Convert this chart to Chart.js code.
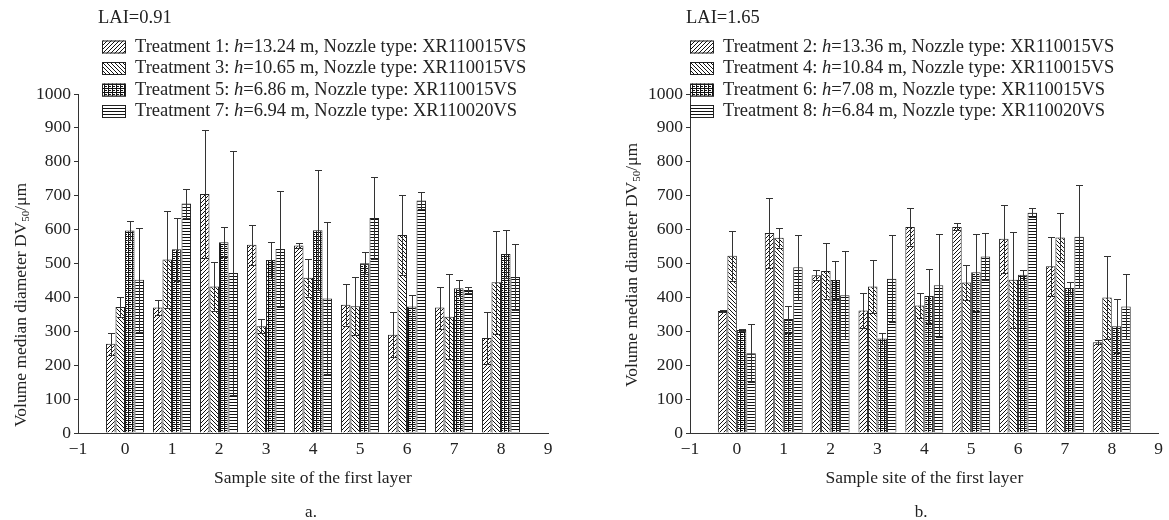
<!DOCTYPE html>
<html>
<head>
<meta charset="utf-8">
<script src="https://cdn.jsdelivr.net/npm/chart.js@4.4.1/dist/chart.umd.min.js"></script>
<style>
    body { margin: 0; background: #fff; }
    #wrap { position: relative; width: 1169px; height: 520px; overflow: hidden; }
    .panel { position: absolute; top: 0; height: 520px; }
    .cap { position: absolute; top: 512px; transform: translate(-50%, -50%); font: 17px "Liberation Serif", serif; color: #222; }
</style>
</head>
<body>
<div id="wrap">
    <div class="panel" style="left:0;width:584px"><canvas id="chartA"></canvas></div>
    <div class="panel" style="left:584px;width:585px"><canvas id="chartB"></canvas></div>
    <div class="cap" style="left:311px">a.</div>
    <div class="cap" style="left:921px">b.</div>
</div>
<script>
// DV50 by sample site, first layer. Two panels: LAI=0.91 (a) and LAI=1.65 (b).
// x axis runs -1..9, sites 0..8 carry data.
const SITES = ['\u22121', '0', '1', '2', '3', '4', '5', '6', '7', '8', '9'];
const Y_TICKS = [0, 100, 200, 300, 400, 500, 600, 700, 800, 900, 1000];

// panel a, LAI=0.91
const A_LAI = 'LAI=0.91';
const A_NAMES = ['Treatment 1', 'Treatment 3', 'Treatment 5', 'Treatment 7'];
const A_HEIGHTS = ['13.24', '10.65', '6.86', '6.94'];
const A_NOZZLES = ['XR110015VS', 'XR110015VS', 'XR110015VS', 'XR110020VS'];
const A_T1 = [263, 370, 705, 555, 553, 378, 290, 370, 280];
const A_T1_ERR = [32, 22, 190, 58, 8, 62, 67, 62, 77];
const A_T3 = [372, 512, 432, 315, 458, 374, 584, 343, 445];
const A_T3_ERR = [30, 142, 72, 20, 56, 86, 118, 126, 152];
const A_T5 = [597, 542, 563, 510, 598, 501, 373, 427, 528];
const A_T5_ERR = [28, 93, 45, 54, 177, 33, 35, 23, 70];
const A_T7 = [452, 677, 472, 543, 397, 634, 686, 422, 460];
const A_T7_ERR = [154, 44, 361, 170, 224, 122, 24, 10, 98];

// panel b, LAI=1.65
const B_LAI = 'LAI=1.65';
const B_NAMES = ['Treatment 2', 'Treatment 4', 'Treatment 6', 'Treatment 8'];
const B_HEIGHTS = ['13.36', '10.84', '7.08', '6.84'];
const B_NOZZLES = ['XR110015VS', 'XR110015VS', 'XR110015VS', 'XR110020VS'];
const B_T2 = [360, 590, 465, 361, 608, 608, 573, 492, 268];
const B_T2_ERR = [4, 102, 15, 51, 57, 10, 100, 87, 5];
const B_T4 = [523, 576, 478, 432, 376, 444, 452, 577, 400];
const B_T4_ERR = [74, 29, 82, 79, 36, 53, 141, 71, 122];
const B_T6 = [304, 336, 451, 279, 404, 474, 467, 428, 315];
const B_T6_ERR = [3, 40, 56, 16, 79, 114, 15, 18, 80];
const B_T8 = [235, 489, 406, 455, 436, 521, 650, 579, 373];
const B_T8_ERR = [86, 96, 130, 128, 152, 69, 13, 152, 95];

const SERIF = '"Liberation Serif", "Times New Roman", serif';
const INK = '#222';

// black & white hatch fills, one per treatment slot
function makePattern(kind) {
    const c = document.createElement('canvas');
    c.width = 4; c.height = kind === 'horiz' ? 3 : 4;
    const g = c.getContext('2d');
    g.fillStyle = '#fff';
    g.fillRect(0, 0, c.width, c.height);
    g.fillStyle = '#111';
    if (kind === 'fwd') {
        for (let i = 0; i < 4; i++) g.fillRect(i, 3 - i, 1, 1);
    } else if (kind === 'back') {
        for (let i = 0; i < 4; i++) g.fillRect(i, i, 1, 1);
    } else if (kind === 'check') {
        g.fillRect(0, 0, 4, 1);
        g.fillRect(0, 0, 1, 4);
        g.fillRect(2, 2, 1, 1);
        g.fillRect(1, 2, 1, 1);
    } else {
        g.fillRect(0, 0, 4, 1);
    }
    return g.createPattern(c, 'repeat');
}
const PATTERNS = ['fwd', 'back', 'check', 'horiz'].map(makePattern);

// pad the site values with empty slots at -1 and 9
const pad = arr => [null, ...arr, null];

const errorBars = {
    id: 'errorBars',
    afterDatasetsDraw(chart) {
        const { ctx } = chart;
        const y = chart.scales.y;
        ctx.save();
        ctx.strokeStyle = '#333';
        ctx.lineWidth = 1;
        chart.data.datasets.forEach((ds, di) => {
            chart.getDatasetMeta(di).data.forEach((bar, i) => {
                const v = ds.data[i], e = ds.errors[i];
                if (v == null || e == null) return;
                const x = Math.round(bar.x) + 0.5;
                const hi = Math.round(y.getPixelForValue(v + e)) + 0.5;
                const lo = Math.round(y.getPixelForValue(Math.max(0, v - e))) + 0.5;
                ctx.beginPath();
                ctx.moveTo(x, lo); ctx.lineTo(x, hi);
                ctx.moveTo(x - 3.5, hi); ctx.lineTo(x + 3.5, hi);
                ctx.moveTo(x - 3.5, lo); ctx.lineTo(x + 3.5, lo);
                ctx.stroke();
            });
        });
        ctx.restore();
    }
};

// LAI header + pattern legend + y title with subscript
const annotations = {
    id: 'annotations',
    afterDraw(chart) {
        const o = chart.options.plugins.annotations;
        const { ctx } = chart;
        ctx.save();
        ctx.fillStyle = INK;
        ctx.textBaseline = 'middle';
        ctx.font = '18.5px ' + SERIF;
        ctx.fillText(o.lai, o.lx, 18);

        o.names.forEach((name, i) => {
            const yy = 47 + i * 21.5;
            ctx.fillStyle = PATTERNS[i];
            ctx.fillRect(o.lx + 4, yy - 6.5, 24, 13);
            ctx.strokeStyle = '#222';
            ctx.lineWidth = 1;
            ctx.strokeRect(o.lx + 4.5, yy - 6, 23, 12);
            ctx.fillStyle = INK;
            let x = o.lx + 37;
            const parts = [[name + ': ', ''], ['h', 'italic '], ['=' + o.heights[i] + ' m, Nozzle type: ' + o.nozzles[i], '']];
            parts.forEach(([t, st]) => {
                ctx.font = st + '18.5px ' + SERIF;
                ctx.fillText(t, x, yy);
                x += ctx.measureText(t).width;
            });
        });

        // rotated y-axis title: Volume median diameter DV50/um
        ctx.translate(o.tx, o.ty);
        ctx.rotate(-Math.PI / 2);
        const main = 'Volume median diameter DV', sub = '50', tail = '/\u03bcm';
        ctx.font = '17.5px ' + SERIF;
        const wMain = ctx.measureText(main).width, wTail = ctx.measureText(tail).width;
        ctx.font = '11px ' + SERIF;
        const wSub = ctx.measureText(sub).width;
        let x = -(wMain + wSub + wTail) / 2;
        ctx.font = '17.5px ' + SERIF;
        ctx.fillText(main, x, 0);
        x += wMain;
        ctx.font = '11px ' + SERIF;
        ctx.fillText(sub, x, 5);
        x += wSub;
        ctx.font = '17.5px ' + SERIF;
        ctx.fillText(tail, x, 0);
        ctx.restore();
    }
};

function buildPanel(canvasId, series, errors, ann, padLeft, padRight) {
    new Chart(document.getElementById(canvasId), {
        type: 'bar',
        data: {
            labels: SITES,
            datasets: series.map((s, i) => ({
                data: pad(s),
                errors: pad(errors[i]),
                backgroundColor: PATTERNS[i],
                borderColor: '#222',
                borderWidth: 1,
                categoryPercentage: 0.81,
                barPercentage: 1.0
            }))
        },
        options: {
            responsive: true,
            maintainAspectRatio: false,
            animation: false,
            devicePixelRatio: 1,
            layout: { padding: { top: 94, left: padLeft, right: padRight, bottom: 31 } },
            plugins: {
                legend: { display: false },
                tooltip: { enabled: false },
                annotations: ann
            },
            scales: {
                x: {
                    offset: false,
                    grid: { display: false, drawTicks: false },
                    border: { display: true, color: '#333', width: 1 },
                    ticks: { color: INK, padding: 6, maxRotation: 0, autoSkip: false, font: { family: SERIF, size: 17.5 } },
                    title: { display: true, text: 'Sample site of the first layer', color: INK, padding: { top: 2, bottom: 0 }, font: { family: SERIF, size: 17.5 } }
                },
                y: {
                    min: 0,
                    max: 1000,
                    afterBuildTicks: axis => { axis.ticks = Y_TICKS.map(v => ({ value: v })); },
                    grid: { drawOnChartArea: false, drawTicks: true, tickLength: 4, color: '#333' },
                    border: { display: true, color: '#333', width: 1 },
                    ticks: { color: INK, padding: 3, callback: v => String(v), font: { family: SERIF, size: 17.5 } }
                }
            }
        },
        plugins: [errorBars, annotations]
    });
}

buildPanel('chartA',
    [A_T1, A_T3, A_T5, A_T7],
    [A_T1_ERR, A_T3_ERR, A_T5_ERR, A_T7_ERR],
    { lai: A_LAI, names: A_NAMES, heights: A_HEIGHTS, nozzles: A_NOZZLES, lx: 98, tx: 21, ty: 305 },
    33, 36);

buildPanel('chartB',
    [B_T2, B_T4, B_T6, B_T8],
    [B_T2_ERR, B_T4_ERR, B_T6_ERR, B_T8_ERR],
    { lai: B_LAI, names: B_NAMES, heights: B_HEIGHTS, nozzles: B_NOZZLES, lx: 102, tx: 48, ty: 265 },
    61, 9);
</script>
</body>
</html>
